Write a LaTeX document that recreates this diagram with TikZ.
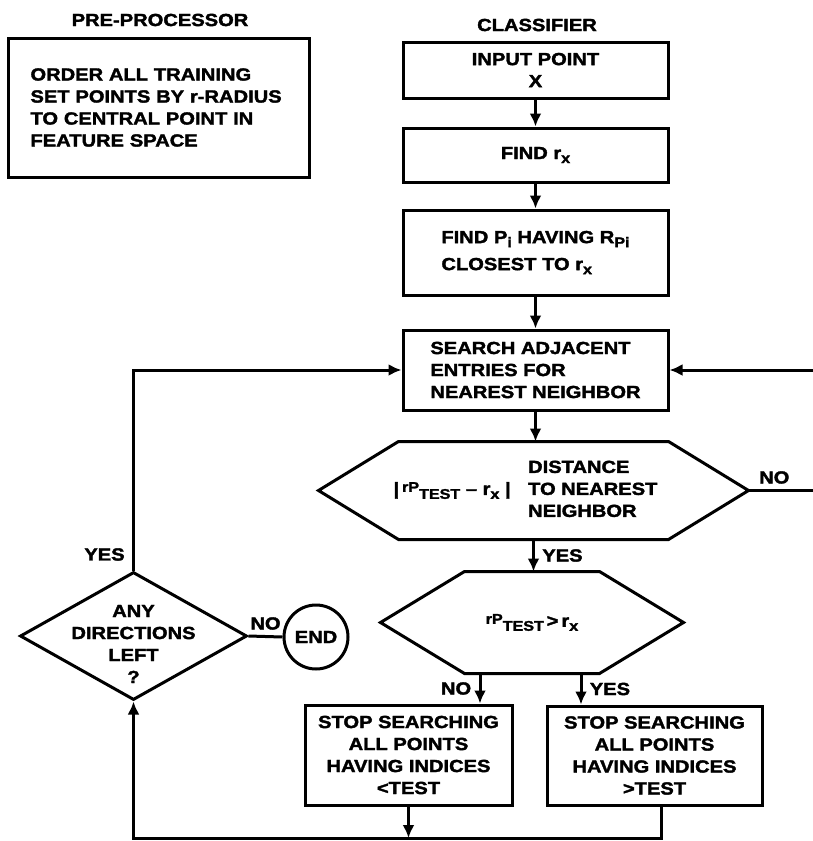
\documentclass[tikz,border=0pt]{standalone}
\usepackage{fontspec}
\setmainfont{Liberation Sans}[FakeStretch=1.15,BoldFeatures={FakeBold=2}]
\usetikzlibrary{arrows.meta,positioning,calc,shapes.geometric}
\newcommand{\smallr}[1]{{\fontsize{14}{14}\selectfont #1}}
\newcommand{\sub}[1]{\raisebox{-4pt}{\fontsize{14}{14}\selectfont #1}}

\begin{document}
\begin{tikzpicture}[x=1pt,y=-1pt,line width=3pt,>={Latex[length=13pt,width=12pt]},
  font=\fontsize{17.5}{22}\selectfont\bfseries,every node/.style={align=center},
  box/.style={draw,rectangle,inner sep=0pt,minimum width=265pt},
  hexa/.style={inner sep=0pt}]
  \useasboundingbox (0,0) rectangle (813,841);
  % pre-processor
  \node (pretitle) at (160,20) {PRE-PROCESSOR};
  \node[box,minimum width=301pt,minimum height=139pt,text width=256pt,align=left] (pre) at (158.5,107.5)
    {ORDER ALL TRAINING\\SET POINTS BY r-RADIUS\\TO CENTRAL POINT IN\\FEATURE SPACE};
  % classifier
  \node (classtitle) at (537,25) {CLASSIFIER};
  \node[box,minimum height=56pt] (input) at (535.5,70) {INPUT POINT\\X};
  \node[box,minimum height=54pt] (findr) at (535.5,155) {FIND r\sub{x}};
  \node[box,minimum height=85pt,align=left] (findp) at (535.5,252.5)
    {FIND P\sub{i} HAVING R\sub{Pi}\\[5pt]CLOSEST TO r\sub{x}};
  \node[box,minimum height=80pt,align=left] (search) at (535.5,370)
    {SEARCH ADJACENT\\ENTRIES FOR\\NEAREST NEIGHBOR};
  \node[hexa,minimum width=267pt,minimum height=95pt] (hexA) at (533.5,490.5)
    {\makebox[0pt]{\hspace*{-16pt}|\,\raisebox{3pt}{\smallr{rP}}\sub{TEST} -- r\sub{x}\ |\quad
     \begin{tabular}{@{}l@{}}DISTANCE\\TO NEAREST\\NEIGHBOR\end{tabular}}};
  \draw (hexA.north west) -- (hexA.north east) -- ($(hexA.east)+(80,0)$) coordinate (hexAr)
    -- (hexA.south east) -- (hexA.south west) -- ($(hexA.west)+(-80,0)$) -- cycle;
  \node[hexa,minimum width=132pt,minimum height=99pt] (hexB) at (532,622.5)
    {\makebox[0pt]{\raisebox{3pt}{\smallr{rP}}\sub{TEST}\,>\,r\sub{x}}};
  \draw (hexB.north west) -- (hexB.north east) -- ($(hexB.east)+(84,0)$)
    -- (hexB.south east) -- (hexB.south west) -- ($(hexB.west)+(-84,0)$) -- cycle;
  \node[box,minimum width=207pt,minimum height=100pt] (stopA) at (408.5,755)
    {STOP SEARCHING\\ALL POINTS\\HAVING INDICES\\<TEST};
  \node[box,minimum width=215pt,minimum height=99pt] (stopB) at (654.5,755.5)
    {STOP SEARCHING\\ALL POINTS\\HAVING INDICES\\>TEST};
  \node[draw,diamond,minimum width=227pt,minimum height=128pt,inner sep=0pt,
    label={[yshift=-8pt]center:ANY\\DIRECTIONS\\LEFT\\?}] (anyq) at (133.5,636) {};
  \node[draw,circle,minimum size=64pt,inner sep=0pt] (endc) at (316,637) {END};
  % connectors
  \coordinate (outR) at (813,490.5);
  \coordinate (inR) at (813,370);
  \coordinate (loopB) at (133.5,838);
  \draw[->] (input) -- (findr);
  \draw[->] (findr) -- (findp);
  \draw[->] (findp) -- (search);
  \draw[->] (search.south) -- (search.south |- hexA.north);
  \draw[->] (hexA.south) -- node[right=4pt]{YES} (hexA.south |- hexB.north);
  \draw (hexAr) -- node[pos=.4,above=2pt]{NO} (outR);
  \draw[->] (inR) -- (search.east);
  \draw[->] ([xshift=-52pt]hexB.south) -- node[left=4pt]{NO} ([xshift=-52pt]hexB.south |- stopA.north);
  \draw[->] ([xshift=49pt]hexB.south) -- node[right=4pt]{YES} ([xshift=49pt]hexB.south |- stopB.north);
  \draw[->] ([xshift=7pt]stopB.south) |- (loopB) -- (anyq.south);
  \draw[->] (stopA.south) -- (stopA.south |- loopB);
  \draw[->] (anyq.north) |- node[pos=.04,left=4pt]{YES} (search.west);
  \draw (anyq.east) -- node[above=2pt]{NO} (endc.west);
\end{tikzpicture}
\end{document}
